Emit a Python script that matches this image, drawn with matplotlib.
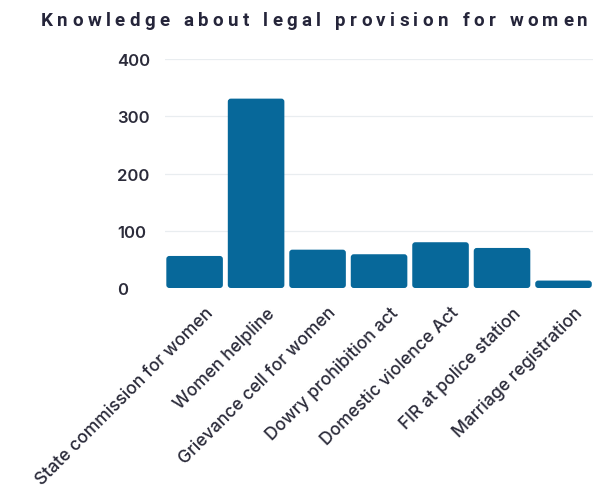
import numpy as np
import matplotlib.pyplot as plt
import matplotlib.transforms as mtransforms
from matplotlib.patches import FancyBboxPatch

categories = [
    "State commission for women",
    "Women helpline",
    "Grievance cell for women",
    "Dowry prohibition act",
    "Domestic violence Act",
    "FIR at police station",
    "Marriage registration",
]
counts = [56, 331, 67, 59, 80, 70, 13]
yticks = [0, 100, 200, 300, 400]
title = "Knowledge about legal provision for women"

bar_color = "#07689a"
text_color = "#2b2b3a"

fig = plt.figure(figsize=(5.96, 4.89), dpi=100)
ax = fig.add_axes([0.277, 0.409, 0.718, 0.468])

x = range(len(categories))
bars = ax.bar(x, counts, width=0.92, color=bar_color, zorder=3)

ax.set_ylim(0, 400)
ax.set_xlim(-0.48, len(categories) - 0.52)

# swap the plain rectangles for slightly rounded ones
fig.canvas.draw()
px_x = 1 / np.ptp(ax.transData.transform([(1, 0), (0, 0)])[:, 0])
px_y = 1 / np.ptp(ax.transData.transform([(0, 1), (0, 0)])[:, 1])
for b in bars:
    b.set_visible(False)
    ax.add_patch(FancyBboxPatch((b.get_x(), b.get_y()), b.get_width(), b.get_height(),
                                boxstyle="round,pad=0,rounding_size=%f" % (3 * px_x),
                                mutation_aspect=px_y / px_x,
                                facecolor=bar_color, edgecolor="none", zorder=3))

ax.set_yticks(yticks)
ax.set_yticklabels([str(v) for v in yticks], fontsize=12, fontweight="semibold",
                   family="Inter", color=text_color)
ax.tick_params(axis="y", length=0, pad=34.5)
ax.tick_params(axis="x", length=0, pad=2)
ax.set_xticks(list(x))
ax.set_xticklabels(categories, rotation=45, ha="right", va="top",
                   rotation_mode="anchor", fontsize=12.6, family="Inter",
                   fontweight="medium", color=text_color)
for lbl in ax.get_yticklabels():
    lbl.set_horizontalalignment("left")
shift = mtransforms.ScaledTranslation(0.1, -0.13, fig.dpi_scale_trans)
for lbl in ax.get_xticklabels():
    lbl.set_transform(lbl.get_transform() + shift)

ax.grid(axis="y", color="#e9edf0", linewidth=0.9, zorder=0)
for s in ax.spines.values():
    s.set_visible(False)

# title with wide letter spacing, one character at a time
renderer = fig.canvas.get_renderer()
props = dict(fontsize=13.5, fontweight="bold", family="Roboto", color="#25253a")
widths = []
for ch in title:
    t = fig.text(0, 0, ch if ch != " " else "n", **props)
    widths.append(t.get_window_extent(renderer).width * (0.5 if ch == " " else 1))
    t.remove()
left, right = 41, 588
tracking = (right - left - sum(widths)) / (len(title) - 1)
xpos = left
for ch, w in zip(title, widths):
    if ch != " ":
        fig.text(xpos / fig.bbox.width, 1 - 21 / fig.bbox.height, ch,
                 ha="left", va="center", **props)
    xpos += w + tracking

fig.savefig("out.png", dpi=100)
